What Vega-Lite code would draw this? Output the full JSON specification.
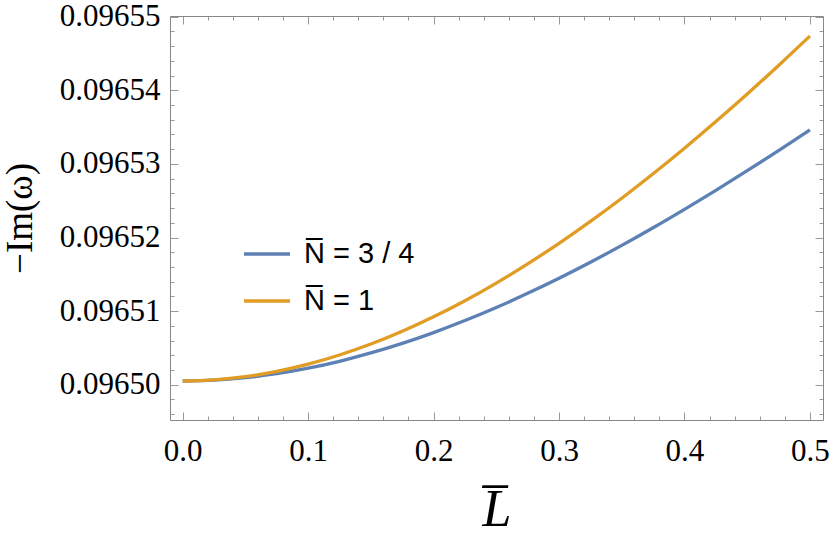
{
  "$schema": "https://vega.github.io/schema/vega-lite/v6.json",
  "width": 653,
  "height": 404,
  "autosize": {"type": "none"},
  "padding": {"left": 170, "top": 16, "right": 7, "bottom": 122},
  "background": "white",
  "view": {"stroke": null},
  "config": {
    "axis": {"grid": false, "domainColor": "#888888", "domainWidth": 1, "tickColor": "#999999", "tickWidth": 1, "labelFont": "Liberation Serif", "labelFontSize": 31, "labelColor": "black", "titleFont": "Liberation Serif", "titleColor": "black", "titleFontWeight": "normal", "labelFlush": false, "labelOverlap": false, "labelBound": false}
  },
  "data": {"values": [
    {"L": 0, "v": 0.0965005, "s": "N̅ = 3 / 4"},
    {"L": 0.025, "v": 0.09650061, "s": "N̅ = 3 / 4"},
    {"L": 0.05, "v": 0.09650095, "s": "N̅ = 3 / 4"},
    {"L": 0.075, "v": 0.09650149, "s": "N̅ = 3 / 4"},
    {"L": 0.1, "v": 0.09650224, "s": "N̅ = 3 / 4"},
    {"L": 0.125, "v": 0.09650318, "s": "N̅ = 3 / 4"},
    {"L": 0.15, "v": 0.09650431, "s": "N̅ = 3 / 4"},
    {"L": 0.175, "v": 0.09650561, "s": "N̅ = 3 / 4"},
    {"L": 0.2, "v": 0.09650708, "s": "N̅ = 3 / 4"},
    {"L": 0.225, "v": 0.09650871, "s": "N̅ = 3 / 4"},
    {"L": 0.25, "v": 0.09651049, "s": "N̅ = 3 / 4"},
    {"L": 0.275, "v": 0.09651241, "s": "N̅ = 3 / 4"},
    {"L": 0.3, "v": 0.09651446, "s": "N̅ = 3 / 4"},
    {"L": 0.325, "v": 0.09651664, "s": "N̅ = 3 / 4"},
    {"L": 0.35, "v": 0.09651893, "s": "N̅ = 3 / 4"},
    {"L": 0.375, "v": 0.09652133, "s": "N̅ = 3 / 4"},
    {"L": 0.4, "v": 0.09652383, "s": "N̅ = 3 / 4"},
    {"L": 0.425, "v": 0.09652641, "s": "N̅ = 3 / 4"},
    {"L": 0.45, "v": 0.09652908, "s": "N̅ = 3 / 4"},
    {"L": 0.475, "v": 0.09653181, "s": "N̅ = 3 / 4"},
    {"L": 0.5, "v": 0.09653461, "s": "N̅ = 3 / 4"},
    {"L": 0, "v": 0.0965005, "s": "N̅ = 1"},
    {"L": 0.025, "v": 0.09650065, "s": "N̅ = 1"},
    {"L": 0.05, "v": 0.09650108, "s": "N̅ = 1"},
    {"L": 0.075, "v": 0.0965018, "s": "N̅ = 1"},
    {"L": 0.1, "v": 0.09650278, "s": "N̅ = 1"},
    {"L": 0.125, "v": 0.09650403, "s": "N̅ = 1"},
    {"L": 0.15, "v": 0.09650552, "s": "N̅ = 1"},
    {"L": 0.175, "v": 0.09650726, "s": "N̅ = 1"},
    {"L": 0.2, "v": 0.09650922, "s": "N̅ = 1"},
    {"L": 0.225, "v": 0.09651141, "s": "N̅ = 1"},
    {"L": 0.25, "v": 0.09651381, "s": "N̅ = 1"},
    {"L": 0.275, "v": 0.09651642, "s": "N̅ = 1"},
    {"L": 0.3, "v": 0.09651921, "s": "N̅ = 1"},
    {"L": 0.325, "v": 0.09652219, "s": "N̅ = 1"},
    {"L": 0.35, "v": 0.09652534, "s": "N̅ = 1"},
    {"L": 0.375, "v": 0.09652866, "s": "N̅ = 1"},
    {"L": 0.4, "v": 0.09653213, "s": "N̅ = 1"},
    {"L": 0.425, "v": 0.09653575, "s": "N̅ = 1"},
    {"L": 0.45, "v": 0.0965395, "s": "N̅ = 1"},
    {"L": 0.475, "v": 0.09654338, "s": "N̅ = 1"},
    {"L": 0.5, "v": 0.09654738, "s": "N̅ = 1"}
  ]},
  "resolve": {"axis": {"x": "independent", "y": "independent"}},
  "layer": [
    {
      "mark": {"type": "line", "opacity": 0},
      "encoding": {
        "x": {"field": "L", "type": "quantitative", "scale": {"domain": [-0.0101, 0.5104], "nice": false, "zero": false},
          "axis": {"orient": "top", "values": [0,0.02,0.04,0.06,0.08,0.1,0.12,0.14,0.16,0.18,0.2,0.22,0.24,0.26,0.28,0.3,0.32,0.34,0.36,0.38,0.4,0.42,0.44,0.46,0.48,0.5], "labels": false, "title": null,
            "tickSize": {"condition": {"test": "abs(datum.value*10 - round(datum.value*10)) < 0.0001", "value": -8}, "value": -4}}},
        "y": {"field": "v", "type": "quantitative", "scale": {"domain": [0.0964952, 0.0965501], "nice": false, "zero": false},
          "axis": {"orient": "right", "values": [0.096496,0.096498,0.0965,0.096502,0.096504,0.096506,0.096508,0.09651,0.096512,0.096514,0.096516,0.096518,0.09652,0.096522,0.096524,0.096526,0.096528,0.09653,0.096532,0.096534,0.096536,0.096538,0.09654,0.096542,0.096544,0.096546,0.096548,0.09655], "labels": false, "title": null,
            "tickSize": {"condition": {"test": "abs(datum.value*100000 - round(datum.value*100000)) < 0.001", "value": -8}, "value": -4}}},
        "detail": {"field": "s"}
      }
    },
    {
      "mark": {"type": "line", "strokeWidth": 3.3, "interpolate": "monotone"},
      "encoding": {
        "x": {"field": "L", "type": "quantitative",
          "axis": {"orient": "bottom", "values": [0,0.02,0.04,0.06,0.08,0.1,0.12,0.14,0.16,0.18,0.2,0.22,0.24,0.26,0.28,0.3,0.32,0.34,0.36,0.38,0.4,0.42,0.44,0.46,0.48,0.5],
            "labelExpr": "abs(datum.value*10 - round(datum.value*10)) < 0.0001 ? format(datum.value, '.1f') : ''",
            "tickSize": {"condition": {"test": "abs(datum.value*10 - round(datum.value*10)) < 0.0001", "value": -8}, "value": -4},
            "labelPadding": 24, "title": "L̅", "titleFontSize": 52, "titleFontStyle": "italic", "titlePadding": 14}},
        "y": {"field": "v", "type": "quantitative",
          "axis": {"orient": "left", "values": [0.096496,0.096498,0.0965,0.096502,0.096504,0.096506,0.096508,0.09651,0.096512,0.096514,0.096516,0.096518,0.09652,0.096522,0.096524,0.096526,0.096528,0.09653,0.096532,0.096534,0.096536,0.096538,0.09654,0.096542,0.096544,0.096546,0.096548,0.09655],
            "labelExpr": "abs(datum.value*100000 - round(datum.value*100000)) < 0.001 ? format(datum.value, '.5f') : ''",
            "tickSize": {"condition": {"test": "abs(datum.value*100000 - round(datum.value*100000)) < 0.001", "value": -8}, "value": -4},
            "labelPadding": 18, "title": "−Im(ω)", "titleFontSize": 37, "titlePadding": 20}},
        "color": {"field": "s", "type": "nominal",
          "scale": {"domain": ["N̅ = 3 / 4", "N̅ = 1"], "range": ["#5E81B5", "#E19C24"]},
          "legend": {"orient": "none", "legendX": 72, "legendY": 213, "title": null, "symbolType": "stroke", "symbolSize": 2116, "symbolStrokeWidth": 3.3, "labelFont": "Liberation Sans", "labelFontSize": 29, "labelColor": "black", "labelOffset": 12, "rowPadding": 7, "padding": 0}}
      }
    }
  ]
}
